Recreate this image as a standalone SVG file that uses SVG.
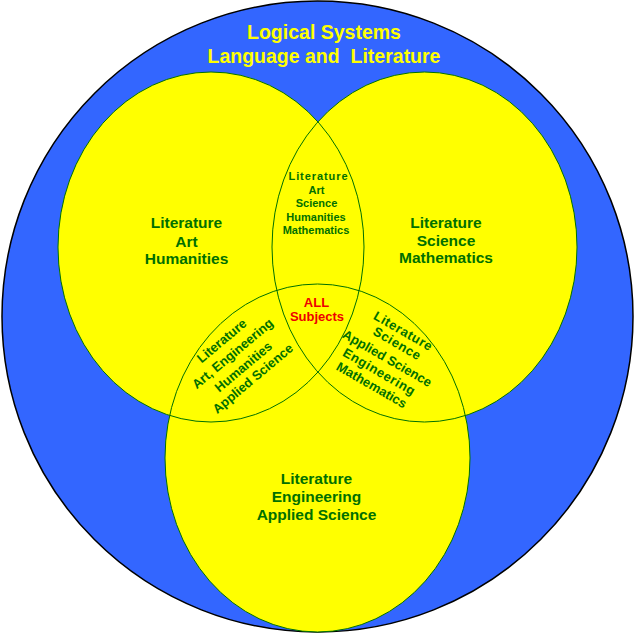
<svg xmlns="http://www.w3.org/2000/svg" width="635" height="633" viewBox="0 0 635 633">
<style>
.t{font-family:"Liberation Sans",Arial,sans-serif;font-weight:bold;text-anchor:middle}
.g{fill:#007000}
.big{font-size:15.5px}
.sm{font-size:11px}
.md{font-size:13px}
.title{fill:#ffff00;font-size:19.5px;white-space:pre}
.red{fill:#ee0000;font-size:13px}
.fillY{fill:#ffff00;stroke:none}
.edge{fill:none;stroke:#007000;stroke-width:1}
</style>
<rect width="635" height="633" fill="#ffffff"/>
<g id="outer">
<circle cx="317.5" cy="316.5" r="315.5" fill="#3366ff" stroke="#000000" stroke-width="1.5"/>
<text class="t title" x="324" y="39">Logical Systems</text>
<text class="t title" x="324" y="63">Language and  Literature</text>
</g>
<g id="circles-fill">
<ellipse class="fillY" cx="211" cy="247" rx="153" ry="175"/>
<ellipse class="fillY" cx="424.5" cy="247" rx="152.5" ry="175"/>
<ellipse class="fillY" cx="317.5" cy="458" rx="152.5" ry="174"/>
</g>
<g id="circles-edges">
<ellipse class="edge" cx="211" cy="247" rx="153" ry="175"/>
<ellipse class="edge" cx="424.5" cy="247" rx="152.5" ry="175"/>
<ellipse class="edge" cx="317.5" cy="458" rx="152.5" ry="174"/>
</g>
<g id="left">
<text class="t g big" x="186.5" y="228">Literature</text>
<text class="t g big" x="186.5" y="246.5">Art</text>
<text class="t g big" x="186.5" y="264">Humanities</text>
</g>
<g id="right">
<text class="t g big" x="446" y="228">Literature</text>
<text class="t g big" x="446" y="245.5">Science</text>
<text class="t g big" x="446" y="263">Mathematics</text>
</g>
<g id="bottom">
<text class="t g big" x="316.5" y="483.5">Literature</text>
<text class="t g big" x="316.5" y="502">Engineering</text>
<text class="t g big" x="316.5" y="520">Applied Science</text>
</g>
<g id="top-lens">
<text class="t g sm" x="318" y="180" textLength="59" lengthAdjust="spacing">Literature</text>
<text class="t g sm" x="316.5" y="194">Art</text>
<text class="t g sm" x="316.5" y="207">Science</text>
<text class="t g sm" x="316" y="221">Humanities</text>
<text class="t g sm" x="316" y="234">Mathematics</text>
</g>
<g id="center">
<text class="t red" x="316.5" y="307">ALL</text>
<text class="t red" x="317" y="321">Subjects</text>
</g>
<g id="left-lens">
<text class="t g md" transform="translate(221.7,340.7) rotate(-40)" y="4.5">Literature</text>
<text class="t g md" transform="translate(232.5,353.5) rotate(-40)" y="4.5">Art, Engineering</text>
<text class="t g md" transform="translate(243.3,366.7) rotate(-40)" y="4.5">Humanities</text>
<text class="t g md" transform="translate(252.7,378.5) rotate(-40)" y="4.5">Applied Science</text>
</g>
<g id="right-lens">
<text class="t g md" transform="translate(403.3,331) rotate(30)" y="4.5" letter-spacing="0.6">Literature</text>
<text class="t g md" transform="translate(397.3,343.5) rotate(30)" y="4.5" letter-spacing="0.6">Science</text>
<text class="t g md" transform="translate(387.3,358.3) rotate(30)" y="4.5">Applied Science</text>
<text class="t g md" transform="translate(379.3,371.7) rotate(30)" y="4.5" letter-spacing="0.6">Engineering</text>
<text class="t g md" transform="translate(371.7,385) rotate(30)" y="4.5">Mathematics</text>
</g>
<g id="connectors"/>
</svg>
